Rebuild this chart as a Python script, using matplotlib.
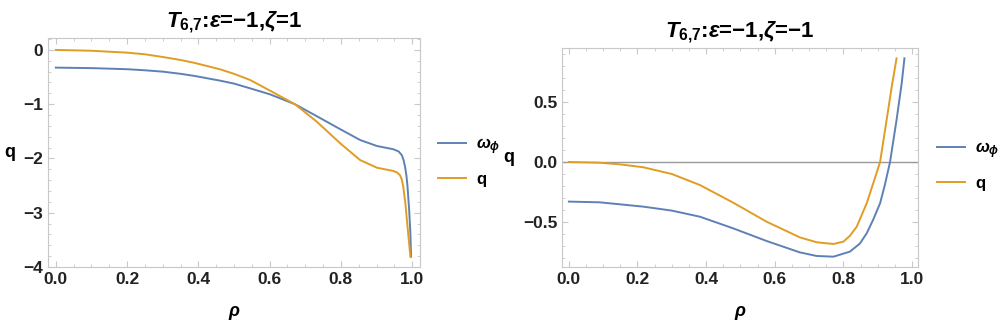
import numpy as np
import matplotlib
matplotlib.use("Agg")
import matplotlib.pyplot as plt
from matplotlib.ticker import MultipleLocator
from matplotlib.lines import Line2D

plt.rcParams['font.family'] = ['Liberation Sans', 'DejaVu Sans']
plt.rcParams['mathtext.fontset'] = 'custom'
plt.rcParams['mathtext.rm'] = 'Liberation Sans:bold'
plt.rcParams['mathtext.it'] = 'Liberation Sans:bold:italic'
plt.rcParams['mathtext.bf'] = 'Liberation Sans:bold'

# datos: panel izquierdo (zeta = 1)
rho_w_l = [0.0, 0.1, 0.2, 0.25, 0.3, 0.35, 0.39, 0.461, 0.5, 0.545, 0.601, 0.671,
           0.732, 0.798, 0.854, 0.901, 0.947, 0.962, 0.971, 0.976, 0.98, 0.984, 0.987,
           0.9916, 0.995, 0.997]
omega_l = [-0.326, -0.335, -0.355, -0.375, -0.40, -0.44, -0.48, -0.566, -0.62, -0.707,
           -0.818, -1.0, -1.22, -1.46, -1.66, -1.77, -1.83, -1.87, -1.94, -2.03, -2.15,
           -2.32, -2.52, -2.95, -3.38, -3.81]
rho_q_l = [0.0, 0.1, 0.2, 0.25, 0.3, 0.35, 0.39, 0.461, 0.5, 0.545, 0.601, 0.671,
           0.732, 0.798, 0.854, 0.901, 0.947, 0.958, 0.966, 0.971, 0.975, 0.981, 0.987,
           0.9925, 0.995]
q_l = [0.0, -0.015, -0.05, -0.08, -0.13, -0.185, -0.24, -0.357, -0.44, -0.553, -0.75,
       -1.0, -1.32, -1.72, -2.03, -2.17, -2.23, -2.26, -2.31, -2.39, -2.52, -2.83, -3.26,
       -3.63, -3.81]

# panel derecho (zeta = -1)
rho_q_r = [0.0, 0.09, 0.15, 0.217, 0.3, 0.382, 0.479, 0.576, 0.673, 0.722, 0.771,
           0.8, 0.819, 0.839, 0.868, 0.887, 0.907, 0.926, 0.941, 0.955]
q_r = [0.0, -0.006, -0.02, -0.044, -0.10, -0.192, -0.339, -0.497, -0.628, -0.669,
       -0.683, -0.664, -0.615, -0.539, -0.344, -0.178, 0.0, 0.35, 0.628, 0.864]
rho_w_r = [0.0, 0.09, 0.217, 0.3, 0.382, 0.479, 0.576, 0.673, 0.722, 0.771, 0.819,
           0.848, 0.868, 0.887, 0.907, 0.921, 0.936, 0.955, 0.97, 0.978]
omega_r = [-0.33, -0.336, -0.372, -0.405, -0.456, -0.553, -0.658, -0.753, -0.783,
           -0.789, -0.747, -0.68, -0.594, -0.48, -0.344, -0.19, 0.0, 0.35, 0.656, 0.864]

blue = '#5e81b5'
orange = '#e19c24'
frame = '#c8c8c8'
W, H = 1002, 330

fig = plt.figure(figsize=(W / 100, H / 100), dpi=100)
ax1 = fig.add_axes([48 / W, 1 - 267 / H, 372 / W, 229 / H])
ax2 = fig.add_axes([562 / W, 1 - 267 / H, 356 / W, 219 / H])


def estilo(ax, xmin, xmax, ymin, ymax, ymaj, ymin_step, fmt):
    ax.set_xlim(xmin, xmax)
    ax.set_ylim(ymin, ymax)
    for s in ax.spines.values():
        s.set_color(frame)
        s.set_linewidth(0.8)
    ax.xaxis.set_major_locator(MultipleLocator(0.2))
    ax.xaxis.set_minor_locator(MultipleLocator(0.05))
    ax.yaxis.set_major_locator(MultipleLocator(ymaj))
    ax.yaxis.set_minor_locator(MultipleLocator(ymin_step))
    ax.yaxis.set_major_formatter(lambda v, p: fmt.format(v).replace('-', '−'))
    ax.tick_params(which='both', direction='in', top=True, right=True, color=frame,
                   labelsize=12.5, labelcolor='#222222')
    ax.tick_params(which='major', length=4, width=0.8)
    ax.tick_params(which='minor', length=2.5, width=0.6)
    for lab in ax.get_xticklabels() + ax.get_yticklabels():
        lab.set_fontweight('bold')
    ax.set_xlabel(r'$\rho$', fontsize=13, labelpad=12)
    ax.set_ylabel('q', fontsize=13, fontweight='bold', rotation=0, labelpad=10, va='center')


estilo(ax1, -0.022, 1.022, -4.0, 0.22, 1, 0.2, '{:.0f}')
ax1.plot(rho_w_l, omega_l, color=blue, lw=1.4)
ax1.plot(rho_q_l, q_l, color=orange, lw=1.4)
ax1.set_title(r'$T_{6{,}7}$:$\epsilon$=−1,$\zeta$=1', fontsize=16, fontweight='bold', pad=8)

estilo(ax2, -0.02, 1.0175, -0.875, 0.95, 0.5, 0.1, '{:.1f}')
ax2.axhline(0, color='#999999', lw=1.0)
ax2.plot(rho_w_r, omega_r, color=blue, lw=1.4)
ax2.plot(rho_q_r, q_r, color=orange, lw=1.4)
ax2.set_title(r'$T_{6{,}7}$:$\epsilon$=−1,$\zeta$=−1', fontsize=16, fontweight='bold', pad=8)

handles = [Line2D([], [], color=blue, lw=1.4), Line2D([], [], color=orange, lw=1.4)]
labels = [r'$\omega_\phi$', 'q']
for x0, y in [(438, 161.5), (937, 165.5)]:
    fig.legend(handles, labels, loc='center left', bbox_to_anchor=(x0 / W, 1 - y / H),
               frameon=False, prop={'size': 12, 'weight': 'bold'}, handlelength=1.7,
               handletextpad=0.6, labelspacing=0.9, borderpad=0, borderaxespad=0)

fig.savefig('out.png', dpi=100)
